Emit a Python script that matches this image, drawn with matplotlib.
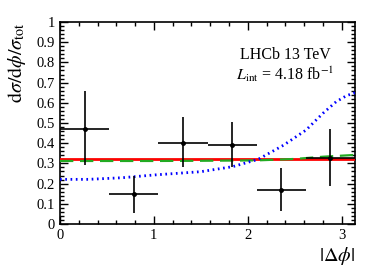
import numpy as np
import matplotlib
matplotlib.use("Agg")
import matplotlib.pyplot as plt
from matplotlib.ticker import MultipleLocator

plt.rcParams['font.family'] = ['Liberation Serif', 'DejaVu Serif']
plt.rcParams['mathtext.fontset'] = 'stix'

# data
bin_centers = [0.262, 0.785, 1.309, 1.833, 2.356, 2.880]
bin_halfwidth = [0.262, 0.262, 0.262, 0.262, 0.262, 0.262]
values = [0.47, 0.148, 0.40, 0.39, 0.17, 0.328]
err_up = [0.19, 0.092, 0.13, 0.115, 0.106, 0.142]
err_down = [0.18, 0.092, 0.12, 0.11, 0.106, 0.138]

red_x = [0.0, 3.1416]
red_y = [0.320, 0.320]

green_x = [0.0, 1.0, 1.5, 2.1, 2.5, 2.8, 3.1416]
green_y = [0.312, 0.312, 0.313, 0.315, 0.322, 0.333, 0.342]

blue_x = [0.0, 0.3, 0.66, 1.01, 1.5, 1.84, 2.11, 2.38, 2.62, 2.80, 2.94, 3.05, 3.1416]
blue_y = [0.221, 0.221, 0.229, 0.243, 0.259, 0.284, 0.32, 0.39, 0.465, 0.548, 0.605, 0.635, 0.65]

fig = plt.figure(figsize=(3.74, 2.70), dpi=100)
ax = fig.add_axes([60/374, 1 - 224/270, (355-60)/374, (224-22)/270])

ax.plot(red_x, red_y, color='red', lw=2.0, zorder=3)
ax.plot(green_x, green_y, color='#22aa22', lw=1.6, ls=(0, (6, 3)), zorder=4)
ax.plot(blue_x, blue_y, color='blue', lw=2.0, ls=(0, (0.6, 1.3)), zorder=5)
ax.errorbar(bin_centers, values, xerr=bin_halfwidth, yerr=[err_down, err_up],
            fmt='o', color='black', ms=2.5, elinewidth=1.2, capsize=0, zorder=6)

ax.set_xlim(0, np.pi)
ax.set_ylim(0, 1)
ax.xaxis.set_major_locator(MultipleLocator(1))
ax.xaxis.set_minor_locator(MultipleLocator(0.2))
ax.yaxis.set_major_locator(MultipleLocator(0.1))
ax.yaxis.set_minor_locator(MultipleLocator(0.02))
ax.tick_params(which='both', direction='in', top=True, right=True, labelsize=10.5, width=1)
ax.tick_params(which='major', length=6)
ax.tick_params(which='minor', length=3)
ax.set_yticks(np.arange(0, 1.01, 0.1))
ax.set_yticklabels(['0', '0.1', '0.2', '0.3', '0.4', '0.5', '0.6', '0.7', '0.8', '0.9', '1'])
ax.set_xticks([0, 1, 2, 3])
ax.set_xticklabels(['0', '1', '2', '3'])
for s in ax.spines.values():
    s.set_linewidth(1.2)

ax.set_ylabel(r'$\mathrm{d}\sigma/\mathrm{d}\phi/\sigma_{\mathrm{tot}}$', fontsize=14.5, loc='top', labelpad=6)
ax.set_xlabel(r'$|\Delta\phi|$', fontsize=14.5, loc='right', labelpad=2)

fig.text(285/374, 1 - 55/270, 'LHCb 13 TeV', ha='center', va='center', fontsize=11.5)
fig.text(285/374, 1 - 74/270, r'$L_{\mathrm{int}}$ = 4.18 fb$^{\mathrm{-1}}$', ha='center', va='center', fontsize=11.5)

fig.savefig('out.png', dpi=100)
